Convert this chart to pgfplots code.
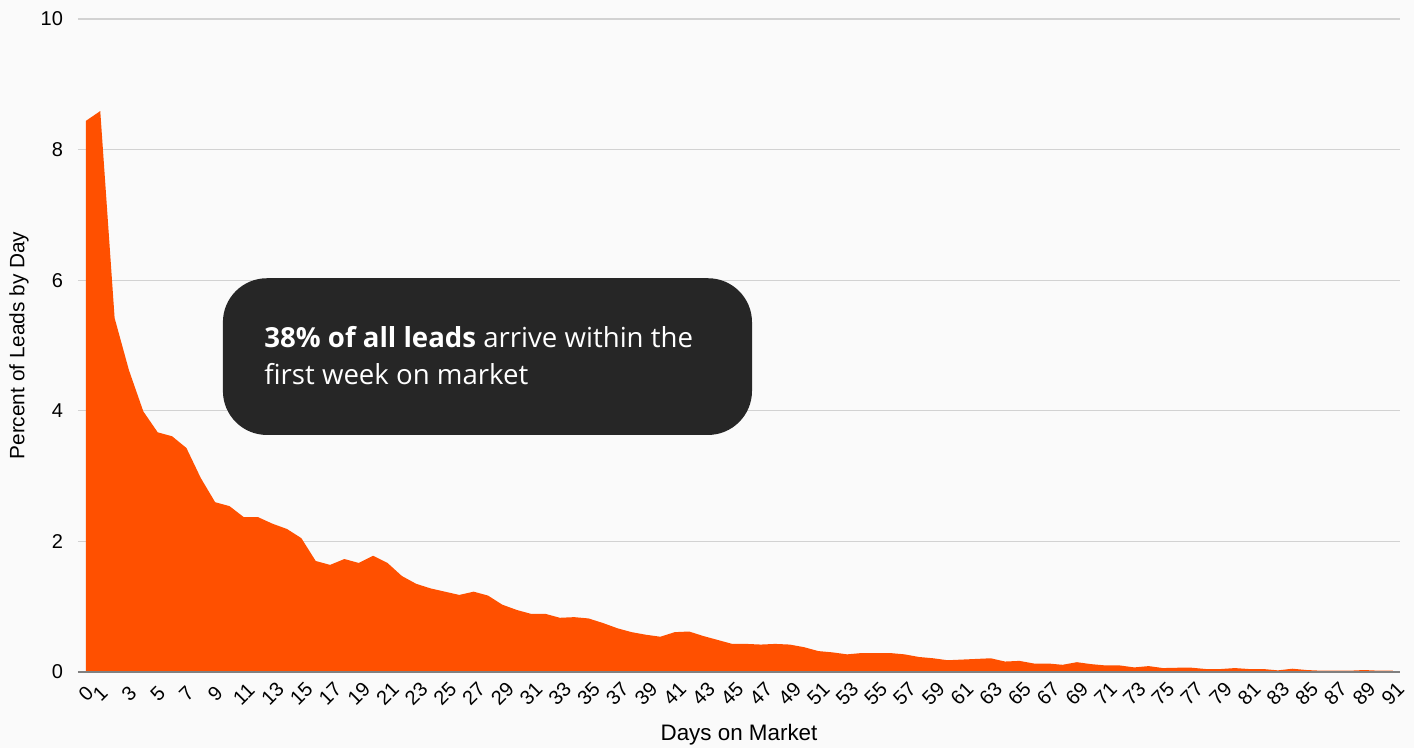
\documentclass[border=0pt]{standalone}
\usepackage{fontspec}
\setmainfont{Liberation Sans}
\newfontfamily\notefont{Open Sans}
\usepackage{pgfplots}
\pgfplotsset{compat=1.18}
\definecolor{bg}{HTML}{FAFAFA}
\definecolor{fillc}{HTML}{FF5000}
\definecolor{gridc}{HTML}{D2D2D2}
\definecolor{boxc}{HTML}{262626}
\begin{document}
\begin{tikzpicture}
\useasboundingbox (-39pt,-38pt) rectangle (668pt,336pt);
\fill[bg] (-39pt,-38pt) rectangle (668pt,336pt);
\begin{axis}[
  scale only axis, width=661pt, height=326.5pt,
  xmin=-0.55, xmax=91.5, ymin=0, ymax=10,
  axis line style={draw=none},
  major tick length=0pt,
  ymajorgrids, grid style={gridc, line width=0.6pt},
  ytick={0,2,4,6,8,10},
  xtick={0,1,3,5,...,91},
  /pgf/number format/assume math mode=true,
  tick label style={font=\fontsize{10}{12}\selectfont},
  yticklabel style={xshift=-4pt},
  xticklabel style={yshift=-11pt, rotate=45, anchor=center},
  xlabel={Days on Market},
  ylabel={Percent of Leads by Day},
  xlabel style={font=\fontsize{11.2}{13}\selectfont, at={(rel axis cs:0.5,0)}, anchor=center, yshift=-31.5pt},
  ylabel style={font=\fontsize{10.4}{12}\selectfont, at={(rel axis cs:0,0.5)}, anchor=center, yshift=29.5pt},
  clip=false,
]
\addplot[fill=fillc, draw=none] coordinates {
(0,8.44) (1,8.59) (2,5.42) (3,4.62) (4,3.99) (5,3.67) (6,3.61) (7,3.43) (8,2.97) (9,2.60)
(10,2.54) (11,2.37) (12,2.37) (13,2.27) (14,2.19) (15,2.05) (16,1.70) (17,1.64) (18,1.73) (19,1.67)
(20,1.78) (21,1.67) (22,1.47) (23,1.35) (24,1.28) (25,1.23) (26,1.18) (27,1.23) (28,1.17) (29,1.03)
(30,0.95) (31,0.89) (32,0.89) (33,0.83) (34,0.84) (35,0.82) (36,0.75) (37,0.67) (38,0.61) (39,0.57)
(40,0.54) (41,0.61) (42,0.62) (43,0.55) (44,0.49) (45,0.43) (46,0.43) (47,0.42) (48,0.43) (49,0.42)
(50,0.38) (51,0.32) (52,0.30) (53,0.27) (54,0.29) (55,0.29) (56,0.29) (57,0.27) (58,0.23) (59,0.21)
(60,0.18) (61,0.19) (62,0.20) (63,0.21) (64,0.16) (65,0.17) (66,0.13) (67,0.13) (68,0.11) (69,0.15)
(70,0.12) (71,0.10) (72,0.10) (73,0.07) (74,0.09) (75,0.06) (76,0.065) (77,0.065) (78,0.045) (79,0.045)
(80,0.06) (81,0.045) (82,0.045) (83,0.025) (84,0.05) (85,0.03) (86,0.02) (87,0.02) (88,0.02) (89,0.03)
(90,0.02) (91,0.02)
} \closedcycle;
\draw[gray, line width=0.6pt] (rel axis cs:0,0) -- (rel axis cs:1,0);
\fill[boxc, rounded corners=22pt] (axis cs:9.54,6.03) rectangle (axis cs:46.38,3.63);
\node[anchor=west, inner sep=0pt, align=left, text=white, font=\notefont\fontsize{13.8}{18.5}\selectfont]
  at (axis cs:12.4,4.85) {\textbf{38\% of all leads} arrive within the\\first week on market};
\end{axis}
\end{tikzpicture}
\end{document}
